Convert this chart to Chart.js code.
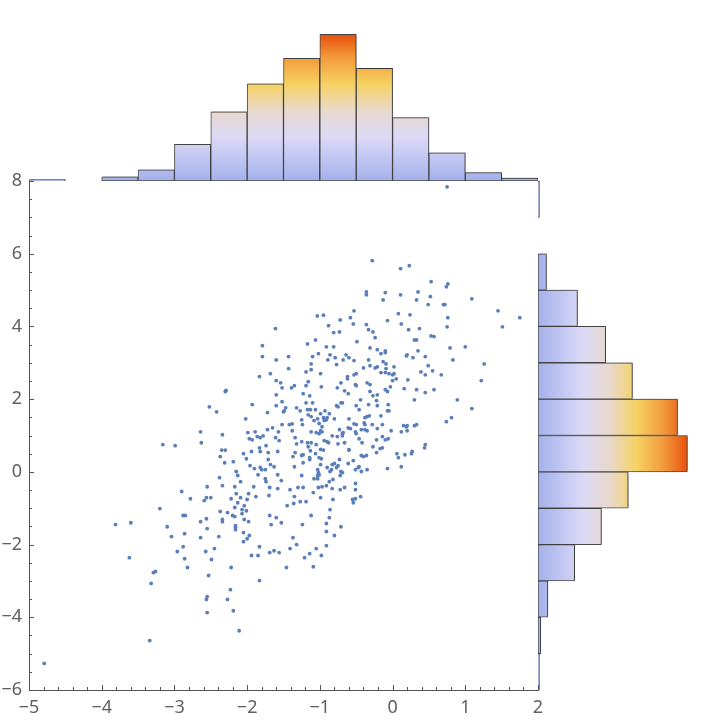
<!DOCTYPE html>
<html>
<head>
<meta charset="utf-8">
<script src="https://cdn.jsdelivr.net/npm/chart.js@4.4.1/dist/chart.umd.min.js"></script>
<style>
  html, body { margin: 0; padding: 0; background: #fff; }
  #wrap { position: relative; width: 720px; height: 720px; }
  #wrap canvas { position: absolute; left: 0; top: 0; }
</style>
</head>
<body>
<div id="wrap">
  <canvas id="topHist" width="720" height="720"></canvas>
  <canvas id="rightHist" width="720" height="720"></canvas>
  <canvas id="scatter" width="720" height="720"></canvas>
</div>
<script>
// data
const xTicks = [-5, -4, -3, -2, -1, 0, 1, 2];
const yTicks = [-6, -4, -2, 0, 2, 4, 6, 8];

// top histogram: bins of 0.5 on x
const topBinCenters = [-4.75, -4.25, -3.75, -3.25, -2.75, -2.25, -1.75, -1.25, -0.75, -0.25, 0.25, 0.75, 1.25, 1.75];
const topCounts = [1, 0, 3, 8, 26, 49, 69, 87, 104, 80, 45, 20, 6, 2];

// right histogram: bins of 1 on y
const rightBinCenters = [-5.5, -4.5, -3.5, -2.5, -1.5, -0.5, 0.5, 1.5, 2.5, 3.5, 4.5, 5.5, 6.5, 7.5];
const rightCounts = [1, 2, 7, 26, 45, 64, 106, 99, 67, 48, 28, 6, 0, 1];

// scatter points [x, y]
const points = [
  [0.75,7.84],
  // upper-left block
  [-1.035,4.29],[-0.95,4.31],[-1.61,3.94],[-1.06,3.63],[-1.17,3.52],[-1.79,3.47],[-1.02,3.25],[-1.79,3.17],
  [-1.60,3.08],[-1.43,3.17],[-1.10,3.17],[-1.12,2.97],[-1.19,2.75],[-1.12,2.81],[-1.43,2.84],[-0.99,2.70],
  [-1.83,2.62],[-1.68,2.70],[-1.60,2.51],[-1.54,2.45],[-1.52,2.31],[-1.39,2.31],[-1.35,2.37],[-1.16,2.48],
  [-1.19,2.37],[-0.98,2.34],[-2.30,2.21],[-2.29,2.24],[-1.60,2.12],[-1.23,2.15],[-1.14,2.09],[-2.52,1.79],
  [-2.42,1.65],[-1.93,1.85],[-1.60,1.82],[-1.52,1.93],[-1.47,1.76],[-1.49,1.68],[-1.50,1.65],[-1.32,1.76],
  [-1.27,1.68],[-1.19,1.90],[-1.10,1.90],[-1.17,1.71],[-1.13,1.71],[-1.06,1.71],[-1.16,1.57],[-1.12,1.52],
  [-1.08,1.41],[-1.03,1.46],[-0.99,1.60],[-0.95,1.49],[-1.01,1.33],[-0.97,1.24],[-1.72,1.63],[-2.02,1.46],
  [-1.52,1.30],[-1.42,1.30],[-1.38,1.32],[-1.25,1.43],[-1.24,1.30],[-0.99,1.13],[-0.97,1.10],[-1.05,1.08],
  [-1.12,1.10],[-1.01,1.05],[-0.94,1.41],[-2.64,1.10],[-2.63,0.80],[-2.34,1.02],[-1.99,1.08],[-1.89,1.10],
  [-1.97,0.91],[-1.93,0.88],[-1.86,0.97],[-1.82,0.94],[-1.78,0.99],[-1.72,1.16],[-1.65,1.21],[-1.57,1.10],
  [-1.61,0.94],[-1.56,0.86],[-1.38,1.13],[-1.34,0.94],[-1.32,0.77],[-1.25,0.83],[-1.17,0.80],[-1.12,0.80],
  [-1.05,0.75],[-0.94,0.86],[-3.16,0.75],[-2.99,0.72],[-1.83,0.66],[-1.74,0.72],[-2.35,0.60],[-2.30,0.60],
  [-1.16,0.69],[-0.99,0.62],
  // upper-right block
  [-0.28,5.81],[0.11,5.59],[0.23,5.67],[0.53,5.23],[0.74,5.09],[0.76,5.17],[-0.36,4.95],[-0.36,4.87],
  [-0.10,4.93],[0.11,4.87],[0.35,4.95],[0.52,4.82],[-0.13,4.73],[0.33,4.73],[0.49,4.60],[0.70,4.60],
  [0.72,4.60],[1.09,4.76],[1.45,4.43],[1.75,4.24],[-0.53,4.43],[-0.72,4.18],[-0.58,4.24],[-0.54,4.07],
  [0.08,4.35],[0.24,4.32],[-0.07,4.16],[0.76,4.24],[0.75,3.99],[1.51,3.99],[-0.88,4.02],[-0.81,3.83],
  [-0.73,3.85],[-0.36,4.05],[-0.33,3.91],[-0.27,3.85],[0.12,4.07],[0.22,3.91],[0.37,3.94],[-0.24,3.69],
  [-0.49,3.58],[0.30,3.63],[0.33,3.63],[0.53,3.74],[0.57,3.72],[-0.91,3.44],[-0.81,3.44],[-0.31,3.41],
  [-0.21,3.36],[-0.10,3.33],[-0.10,3.28],[-0.16,3.25],[-0.86,3.22],[-0.64,3.22],[-0.60,3.14],[-0.89,3.08],
  [-0.79,3.14],[-0.68,3.08],[-0.53,3.06],[-0.77,2.95],[-0.33,3.08],[0.19,3.19],[0.20,3.22],[0.28,3.14],
  [0.35,3.33],[0.45,3.17],[0.79,3.41],[1.00,3.44],[0.83,3.08],[1.26,2.97],[-0.13,3.03],[-0.09,2.97],
  [0.02,2.89],[-0.40,2.86],[-0.31,2.92],[-0.24,2.86],[-0.21,2.89],[-0.09,2.84],[0.49,2.92],[0.39,2.75],
  [0.45,2.67],[0.55,2.78],[0.67,2.67],[-0.16,2.73],[-0.10,2.73],[-0.05,2.70],[0.00,2.67],[0.02,2.70],
  [-0.53,2.67],[-0.50,2.70],[-0.62,2.62],[-0.62,2.56],[0.05,2.56],[0.00,2.51],[0.21,2.53],[-0.71,2.45],
  [-0.51,2.40],[-0.50,2.37],[-0.35,2.45],[-0.31,2.40],[-0.03,2.34],[1.22,2.51],[-0.76,2.31],[-0.66,2.23],
  [-0.61,2.15],[-0.31,2.21],[-0.27,2.09],[-0.21,2.12],[-0.10,2.26],[-0.07,2.21],[0.16,2.29],[0.33,2.26],
  [0.45,2.18],[0.57,2.26],[0.89,1.98],[0.30,1.98],[-0.44,1.98],[-0.22,1.96],[-0.71,1.90],[-0.69,1.90],
  [-0.77,1.82],[-0.75,1.79],[-0.50,1.82],[-0.33,1.85],[-0.21,1.82],[-0.06,1.85],[-0.46,1.71],[-0.07,1.68],
  [-0.05,1.68],[1.09,1.74],[-0.93,1.68],[-0.87,1.60],[-0.91,1.43],[-0.90,1.49],[-0.80,1.46],[-0.60,1.46],
  [-0.38,1.49],[-0.35,1.52],[-0.32,1.54],[-0.16,1.54],[0.81,1.49],[0.74,1.38],[-0.53,1.32],[-0.50,1.30],
  [-0.39,1.35],[-0.38,1.30],[-0.28,1.30],[-0.14,1.30],[0.15,1.27],[0.19,1.24],[0.20,1.27],[0.30,1.27],
  [0.33,1.30],[-0.61,1.21],[-0.58,1.19],[-0.43,1.16],[-0.38,1.16],[-0.35,1.13],[-0.21,1.19],[-0.02,1.13],
  [0.12,1.10],[0.20,1.13],[-0.73,1.16],[-0.68,1.08],[-0.69,1.05],[-0.51,1.10],[-0.50,1.05],[-0.83,0.99],
  [-0.76,0.97],[-0.69,0.99],[-0.46,0.91],[-0.22,0.88],[-0.14,0.97],[-0.10,0.88],[-0.06,0.91],[-0.90,0.83],
  [-0.88,0.80],[-0.75,0.77],[-0.66,0.80],[-0.42,0.80],[-0.27,0.69],[-0.17,0.64],[-0.14,0.66],[-0.60,0.61],
  [0.44,0.66],[0.45,0.75],
  // lower-left block
  [-2.05,0.50],[-2.37,0.42],[-2.31,0.25],[-2.19,0.28],[-2.15,0.01],[-2.13,-0.10],[-2.09,-0.27],[-2.38,-0.16],
  [-2.34,-0.38],[-2.17,-0.41],[-2.55,-0.41],[-2.90,-0.54],[-2.78,-0.74],[-2.59,-0.79],[-2.56,-0.71],[-2.50,-0.71],
  [-2.22,-0.74],[-2.15,-0.60],[-2.09,-0.71],[-2.13,-0.85],[-2.04,-0.93],[-2.17,-0.98],[-2.07,-1.04],[-2.07,-1.15],
  [-2.37,-1.09],[-2.27,-1.12],[-2.20,-1.20],[-2.17,-1.23],[-2.04,-1.31],[-3.20,-1.01],[-2.88,-1.20],[-2.85,-1.20],
  [-2.56,-1.29],[-2.64,-1.37],[-2.34,-1.31],[-2.34,-1.37],[-2.16,-1.48],[-2.16,-1.53],[-2.16,-1.59],[-3.81,-1.45],
  [-3.60,-1.40],[-3.10,-1.51],[-3.04,-1.78],[-2.86,-1.70],[-2.64,-1.81],[-2.55,-1.56],[-2.39,-1.78],[-2.05,-1.67],
  [-2.05,-1.92],[-2.88,-2.06],[-2.96,-2.19],[-2.86,-2.39],[-2.57,-2.19],[-2.45,-2.11],[-2.49,-2.41],[-2.82,-2.63],
  [-2.22,-2.63],[-3.62,-2.36],[-3.29,-2.77],[-3.26,-2.74],[-2.53,-2.85],[-3.32,-3.07],[-2.23,-3.24],[-2.55,-3.43],
  [-2.56,-3.51],[-2.27,-3.51],[-2.55,-3.87],[-2.19,-3.82],[-2.11,-4.37],[-3.34,-4.64],[-4.79,-5.27],
  // lower-right block
  [-1.94,0.56],[-1.82,0.56],[-1.71,0.53],[-1.58,0.56],[-1.34,0.53],[-1.13,0.58],[-0.95,0.60],[-0.60,0.60],
  [-2.01,0.36],[-1.96,0.17],[-1.90,0.09],[-1.82,0.12],[-1.80,0.06],[-1.75,0.06],[-1.85,-0.08],[-1.71,0.34],
  [-1.68,0.20],[-1.63,0.14],[-1.58,-0.08],[-1.53,-0.24],[-1.75,-0.19],[-1.74,-0.27],[-1.37,0.42],[-1.35,0.14],
  [-1.25,0.45],[-1.23,0.47],[-1.23,0.25],[-1.14,0.34],[-1.14,0.39],[-1.06,0.50],[-1.01,0.39],[-0.98,0.36],
  [-0.99,0.20],[-1.25,-0.10],[-1.03,0.06],[-1.02,-0.02],[-1.01,-0.08],[-1.03,-0.10],[-1.08,-0.19],[-1.03,-0.19],
  [-0.90,0.12],[-0.86,0.01],[-0.84,0.06],[-0.83,0.20],[-0.80,0.23],[-0.77,0.12],[-0.75,0.17],[-0.73,0.34],
  [-0.71,0.01],[-0.69,-0.02],[-0.72,-0.10],[-0.61,0.23],[-0.54,0.31],[-0.43,0.45],[-0.40,0.42],[-0.36,0.45],
  [-0.51,0.06],[-0.47,0.12],[-0.46,0.14],[-0.43,0.01],[-0.35,0.06],[-0.22,0.53],[-0.07,0.09],[0.06,0.50],
  [0.08,0.39],[0.17,0.47],[0.26,0.50],[0.27,0.56],[0.12,0.14],[-0.87,-0.27],[-0.82,-0.21],[-0.91,-0.38],
  [-0.97,-0.41],[-1.02,-0.43],[-1.09,-0.57],[-0.83,-0.46],[-0.72,-0.49],[-0.66,-0.43],[-0.51,-0.32],[-0.51,-0.49],
  [-0.44,-0.68],[-0.55,-0.76],[-0.54,-0.85],[-0.51,-0.74],[-0.82,-0.76],[-0.99,-0.71],[-1.41,-0.49],[-1.30,-0.43],
  [-1.23,-0.43],[-1.35,-0.68],[-1.27,-0.82],[-1.19,-0.82],[-1.36,-0.87],[-1.45,-0.93],[-1.70,-0.65],[-1.69,-0.43],
  [-1.58,-0.46],[-1.91,-0.41],[-1.98,-0.60],[-1.88,-0.68],[-2.00,-0.76],[-2.01,-1.07],[-0.86,-1.04],[-0.87,-1.26],
  [-0.91,-1.42],[-1.12,-1.20],[-1.24,-1.45],[-0.71,-1.51],[-0.91,-1.64],[-0.80,-1.75],[-0.91,-2.03],[-1.69,-1.20],
  [-1.60,-1.26],[-1.67,-1.45],[-1.53,-1.40],[-1.98,-1.37],[-1.97,-1.75],[-2.00,-1.84],[-1.37,-1.81],[-1.32,-2.00],
  [-1.41,-2.11],[-1.83,-2.06],[-1.05,-2.11],[-1.94,-2.30],[-1.85,-2.30],[-1.69,-2.22],[-1.63,-2.17],[-1.56,-2.22],
  [-1.21,-2.36],[-1.14,-2.25],[-0.98,-2.30],[-1.46,-2.63],[-1.09,-2.61],[-1.83,-2.99]
];

// styles
const dotColor = '#5a7eb8';
const axisColor = '#555555';
const labelColor = '#606060';
const fontFamily = '"Noto Sans", "DejaVu Sans", sans-serif';
const barBorder = 'rgba(55,55,55,0.9)';
const gradStops = [
  [0.00, '#a3b1eb'],
  [0.30, '#dcd9f7'],
  [0.48, '#e8d9cc'],
  [0.66, '#f6d262'],
  [0.84, '#f29b3b'],
  [1.00, '#e8500c']
];

function fmt(v) {
  return v < 0 ? '\u2212' + Math.abs(v) : String(v);
}

function makeGradient(ctx, x0, y0, x1, y1) {
  const g = ctx.createLinearGradient(x0, y0, x1, y1);
  gradStops.forEach(s => g.addColorStop(s[0], s[1]));
  return g;
}

// faint shadow under the histogram bars
const barShadow = {
  id: 'barShadow',
  beforeDatasetsDraw(chart) {
    const c = chart.ctx;
    c.save();
    c.shadowColor = 'rgba(0,0,0,0.25)';
    c.shadowBlur = 1;
    c.shadowOffsetX = 1;
    c.shadowOffsetY = -1;
  },
  afterDatasetsDraw(chart) {
    chart.ctx.restore();
  }
};

// ticks pointing into the plot
const innerTicks = {
  id: 'innerTicks',
  afterDraw(chart) {
    const { ctx, chartArea: a, scales: { x, y } } = chart;
    ctx.save();
    ctx.strokeStyle = axisColor;
    ctx.lineWidth = 1;
    ctx.beginPath();
    const xMin = xTicks[0], xMax = xTicks[xTicks.length - 1];
    const nx = Math.round((xMax - xMin) / 0.2);
    for (let i = 0; i <= nx; i++) {
      const px = Math.round(x.getPixelForValue(xMin + i * 0.2)) + 0.5;
      const len = i % 5 === 0 ? 5 : 3;
      ctx.moveTo(px, a.bottom);
      ctx.lineTo(px, a.bottom - len);
    }
    const yMin = yTicks[0], yMax = yTicks[yTicks.length - 1];
    const ny = Math.round((yMax - yMin) / 0.5);
    for (let j = 0; j <= ny; j++) {
      const py = Math.round(y.getPixelForValue(yMin + j * 0.5)) + 0.5;
      const len = j % 4 === 0 ? 5 : 3;
      ctx.moveTo(a.left, py);
      ctx.lineTo(a.left + len, py);
    }
    ctx.stroke();
    ctx.restore();
  }
};

// main scatter
new Chart(document.getElementById('scatter'), {
  type: 'scatter',
  data: {
    datasets: [{
      data: points.map(p => ({ x: p[0], y: p[1] })),
      pointRadius: 1.9,
      pointHoverRadius: 1.9,
      pointBackgroundColor: dotColor,
      pointBorderWidth: 0
    }]
  },
  options: {
    responsive: false,
    animation: false,
    events: [],
    layout: { padding: { top: 181, right: 182, left: 0, bottom: 0 } },
    plugins: { legend: { display: false }, tooltip: { enabled: false } },
    scales: {
      x: {
        type: 'linear', min: xTicks[0], max: xTicks[xTicks.length - 1],
        grid: { display: false, drawTicks: false },
        border: { color: axisColor, width: 1 },
        ticks: { stepSize: 1, padding: 7, color: labelColor, font: { family: fontFamily, size: 18 }, callback: fmt, maxRotation: 0, autoSkip: false },
        afterFit: s => { s.height = 30; }
      },
      y: {
        type: 'linear', min: yTicks[0], max: yTicks[yTicks.length - 1],
        grid: { display: false, drawTicks: false },
        border: { color: axisColor, width: 1 },
        ticks: { stepSize: 2, padding: 7, color: labelColor, font: { family: fontFamily, size: 18 }, callback: fmt, autoSkip: false },
        afterFit: s => { s.width = 29; }
      }
    }
  },
  plugins: [innerTicks]
});

// top histogram
const topMax = Math.max(...topCounts);
new Chart(document.getElementById('topHist'), {
  type: 'bar',
  data: {
    datasets: [{
      data: topBinCenters.map((c, i) => ({ x: c, y: topCounts[i] })),
      backgroundColor: c => {
        const ch = c.chart;
        if (!ch.chartArea) return gradStops[0][1];
        const ys = ch.scales.y;
        return makeGradient(ch.ctx, 0, ys.getPixelForValue(0), 0, ys.getPixelForValue(topMax));
      },
      borderColor: barBorder,
      borderWidth: 1,
      borderSkipped: false,
      barPercentage: 1,
      categoryPercentage: 1
    }]
  },
  options: {
    responsive: false,
    animation: false,
    events: [],
    layout: { padding: { top: 26, right: 182, left: 29, bottom: 539 } },
    plugins: { legend: { display: false }, tooltip: { enabled: false } },
    scales: {
      x: { type: 'linear', min: -5, max: 2, offset: false, display: false, ticks: { stepSize: 0.5 } },
      y: { min: 0, max: 110, display: false }
    }
  },
  plugins: [barShadow]
});

// right histogram
const rightMax = Math.max(...rightCounts);
new Chart(document.getElementById('rightHist'), {
  type: 'bar',
  data: {
    datasets: [{
      data: rightBinCenters.map((c, i) => ({ y: c, x: rightCounts[i] })),
      backgroundColor: c => {
        const ch = c.chart;
        if (!ch.chartArea) return gradStops[0][1];
        const xs = ch.scales.x;
        return makeGradient(ch.ctx, xs.getPixelForValue(0), 0, xs.getPixelForValue(rightMax), 0);
      },
      borderColor: barBorder,
      borderWidth: 1,
      borderSkipped: false,
      barPercentage: 1,
      categoryPercentage: 1
    }]
  },
  options: {
    indexAxis: 'y',
    responsive: false,
    animation: false,
    events: [],
    layout: { padding: { top: 181, right: 27, left: 538, bottom: 30 } },
    plugins: { legend: { display: false }, tooltip: { enabled: false } },
    scales: {
      y: { type: 'linear', min: -6, max: 8, offset: false, display: false, ticks: { stepSize: 1 } },
      x: { min: 0, max: 110, display: false }
    }
  },
  plugins: [barShadow]
});
</script>
</body>
</html>
